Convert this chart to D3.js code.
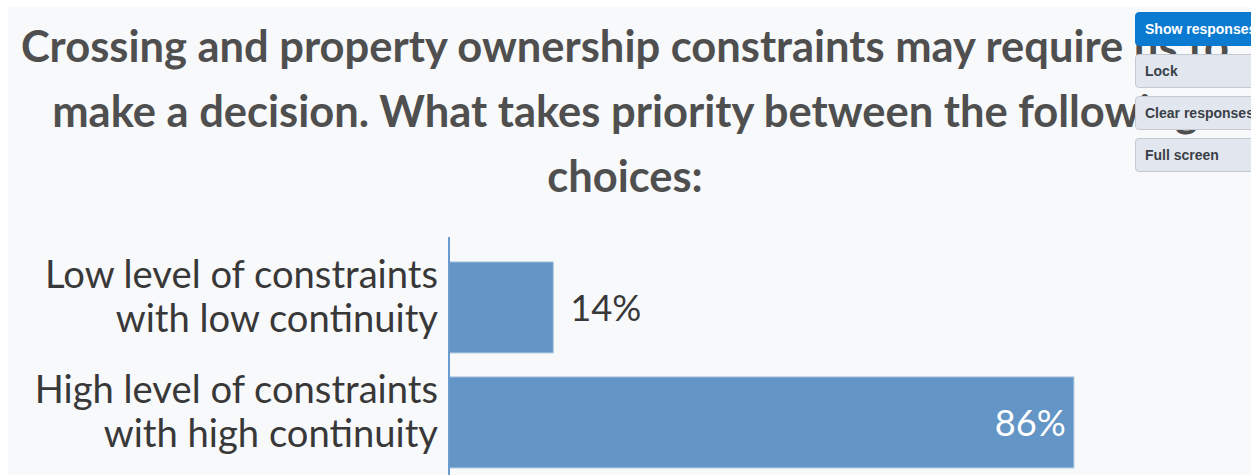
<!DOCTYPE html>
<html>
<head>
<meta charset="utf-8">
<script src="https://cdn.jsdelivr.net/npm/d3@7"></script>
<style>
  html, body { margin: 0; padding: 0; background: #ffffff; overflow: hidden; }
  #panel { position: absolute; left: 8px; top: 7px; width: 1243px; height: 468px; background: #f8f9fb; }
  #chart { position: absolute; left: 0; top: 0; }
  .btn {
    position: absolute; left: 1135px; width: 140px; height: 34px; box-sizing: border-box;
    font-family: "Liberation Sans", Arial, sans-serif; font-size: 14px; font-weight: bold;
    padding: 0 9px; line-height: 32px; border-radius: 4px; white-space: nowrap;
    background: #e2e7ef; border: 1px solid #c3cad4; color: #3a3f47;
  }
  .btn.primary { background: #0b7bd1; border-color: #0b7bd1; color: #ffffff; }
</style>
</head>
<body>
<div id="panel"></div>
<svg id="chart" width="1251" height="475"></svg>
<script>
  var titleLines = [
    "Crossing and property ownership constraints may require us to",
    "make a decision. What takes priority between the following",
    "choices:"
  ];
  var categories = [
    ["Low level of constraints", "with low continuity"],
    ["High level of constraints", "with high continuity"]
  ];
  var values = [14.29, 85.71];
  var valueLabels = ["14%", "86%"];
  var buttons = ["Show responses", "Lock", "Clear responses", "Full screen"];

  var width = 1251, height = 475;
  var svg = d3.select("#chart");

  // fit a font size so that a reference text spans the given width
  function fitSize(family, weight, text, target) {
    var t = svg.append("text")
      .attr("font-family", family)
      .attr("font-weight", weight)
      .attr("font-size", 100)
      .text(text);
    var w = t.node().getComputedTextLength();
    t.remove();
    return 100 * target / w;
  }

  var titleFont = "Lato, 'Open Sans', sans-serif";
  var titleSize = fitSize(titleFont, "bold", titleLines[1], 1146);

  svg.append("g")
    .selectAll("text")
    .data(titleLines)
    .join("text")
    .attr("x", 625)
    .attr("y", (d, i) => 62 + i * 65)
    .attr("text-anchor", "middle")
    .attr("font-family", titleFont)
    .attr("font-weight", "bold")
    .attr("font-size", titleSize)
    .attr("fill", "#4f4f4f")
    .text(d => d);

  var x = d3.scaleLinear()
    .domain([0, 100])
    .range([449, 1178]);

  var step = 115;
  var y = d3.scaleBand()
    .domain(d3.range(categories.length))
    .paddingInner(0.21)
    .paddingOuter(0.2);
  y.range([239, 239 + step * (categories.length - 0.21 + 0.4)]);

  svg.append("g")
    .selectAll("rect")
    .data(values)
    .join("rect")
    .attr("x", x(0))
    .attr("y", (d, i) => y(i))
    .attr("width", d => x(d) - x(0))
    .attr("height", y.bandwidth())
    .attr("fill", "#6395c6")
    .attr("stroke", "#9dbbdc")
    .attr("stroke-width", 1);

  var labelFont = "Lato, 'Open Sans', sans-serif";
  var labelSize = fitSize(labelFont, "normal", categories[0][0], 393);

  var labels = svg.append("g")
    .selectAll("text")
    .data(categories)
    .join("text")
    .attr("x", 438)
    .attr("y", (d, i) => y(i) + y.bandwidth() / 2)
    .attr("text-anchor", "end")
    .attr("font-family", labelFont)
    .attr("font-size", labelSize)
    .attr("fill", "#383838");

  labels.selectAll("tspan")
    .data(d => d)
    .join("tspan")
    .attr("x", 438)
    .attr("dy", (d, i) => i == 0 ? -19 : 44)
    .text(d => d);

  // value labels: inside the bar when it is wide enough, outside otherwise
  svg.append("g")
    .selectAll("text")
    .data(values)
    .join("text")
    .attr("x", d => (x(d) - x(0)) > 200 ? x(d) - 8 : x(d) + 17)
    .attr("y", (d, i) => y(i) + y.bandwidth() / 2)
    .attr("dy", "0.38em")
    .attr("text-anchor", d => (x(d) - x(0)) > 200 ? "end" : "start")
    .attr("font-family", labelFont)
    .attr("font-size", labelSize * 0.95)
    .attr("fill", d => (x(d) - x(0)) > 200 ? "#ffffff" : "#383838")
    .text((d, i) => valueLabels[i]);

  svg.append("line")
    .attr("x1", x(0))
    .attr("x2", x(0))
    .attr("y1", 237)
    .attr("y2", height)
    .attr("stroke", "#6a9bd0")
    .attr("stroke-width", 2);

  d3.select("body")
    .selectAll("div.btn")
    .data(buttons)
    .join("div")
    .attr("class", (d, i) => i == 0 ? "btn primary" : "btn")
    .style("top", (d, i) => (12 + i * 42) + "px")
    .text(d => d);
</script>
</body>
</html>
